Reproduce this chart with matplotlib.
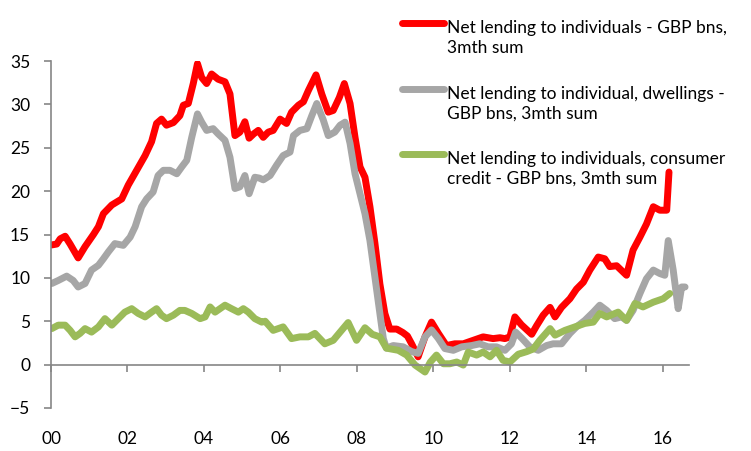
import matplotlib
matplotlib.use("Agg")
import matplotlib.pyplot as plt
from matplotlib.lines import Line2D

plt.rcParams['font.family'] = ['Lato', 'DejaVu Sans']

# values (year as decimal, GBP bns)
red_years = [2000.02, 2000.15, 2000.24, 2000.37, 2000.5, 2000.71, 2000.89, 2001.11, 2001.24, 2001.37,
             2001.59, 2001.85, 2002.02, 2002.24, 2002.46, 2002.63, 2002.76, 2002.89, 2003.02, 2003.2,
             2003.37, 2003.46, 2003.59, 2003.72, 2003.83, 2003.94, 2004.07, 2004.2, 2004.37, 2004.55,
             2004.68, 2004.81, 2004.94, 2005.07, 2005.18, 2005.3, 2005.42, 2005.55, 2005.68, 2005.81,
             2005.99, 2006.16, 2006.29, 2006.47, 2006.6, 2006.73, 2006.93, 2007.08, 2007.25, 2007.38,
             2007.54, 2007.67, 2007.82, 2007.95, 2008.08, 2008.21, 2008.34, 2008.47, 2008.6, 2008.73,
             2008.86, 2009.04, 2009.2, 2009.32, 2009.43, 2009.6, 2009.78, 2009.95, 2010.13, 2010.34,
             2010.56, 2010.78, 2011.04, 2011.3, 2011.56, 2011.74, 2011.87, 2012.0, 2012.13, 2012.3,
             2012.57, 2012.7, 2012.87, 2013.05, 2013.18, 2013.35, 2013.57, 2013.74, 2013.92, 2014.09,
             2014.31, 2014.48, 2014.61, 2014.79, 2015.05, 2015.22, 2015.4, 2015.57, 2015.75, 2015.92,
             2016.1, 2016.16]
red_values = [13.8, 13.9, 14.5, 14.8, 13.9, 12.3, 13.6, 15.0, 15.9, 17.4,
              18.4, 19.1, 20.7, 22.4, 24.1, 25.7, 27.8, 28.3, 27.6, 27.9,
              28.7, 29.9, 30.1, 32.4, 34.7, 33.1, 32.4, 33.5, 32.9, 32.6,
              31.2, 26.4, 26.8, 28.0, 26.1, 26.6, 27.0, 26.2, 26.8, 27.0,
              28.3, 27.8, 29.1, 29.9, 30.3, 31.6, 33.4, 31.2, 29.1, 29.3,
              30.8, 32.4, 30.1, 26.2, 22.8, 21.6, 18.2, 14.0, 9.3, 5.9,
              4.1, 4.1, 3.7, 3.3, 2.4, 0.9, 3.2, 4.9, 3.6, 2.2,
              2.4, 2.4, 2.8, 3.2, 3.0, 3.1, 3.0, 3.2, 5.5, 4.6,
              3.5, 4.5, 5.7, 6.6, 5.5, 6.6, 7.6, 8.7, 9.5, 10.9,
              12.4, 12.2, 11.3, 11.4, 10.3, 13.2, 14.7, 16.2, 18.2, 17.8,
              17.8, 22.2]

grey_years = [2000.02, 2000.19, 2000.41, 2000.58, 2000.71, 2000.89, 2001.06, 2001.24, 2001.37, 2001.5,
              2001.67, 2001.89, 2002.07, 2002.2, 2002.37, 2002.5, 2002.67, 2002.8, 2002.94, 2003.11,
              2003.29, 2003.42, 2003.55, 2003.68, 2003.83, 2003.94, 2004.07, 2004.24, 2004.37, 2004.55,
              2004.68, 2004.81, 2004.94, 2005.07, 2005.18, 2005.33, 2005.45, 2005.55, 2005.73, 2005.9,
              2006.07, 2006.25, 2006.34, 2006.51, 2006.69, 2006.82, 2006.95, 2007.12, 2007.25, 2007.42,
              2007.56, 2007.69, 2007.82, 2007.95, 2008.08, 2008.21, 2008.34, 2008.47, 2008.6, 2008.69,
              2008.77, 2008.95, 2009.21, 2009.43, 2009.6, 2009.78, 2009.95, 2010.13, 2010.3, 2010.52,
              2010.74, 2011.0, 2011.21, 2011.43, 2011.65, 2011.87, 2012.04, 2012.15, 2012.32, 2012.52,
              2012.74, 2012.96, 2013.13, 2013.35, 2013.57, 2013.74, 2013.96, 2014.18, 2014.35, 2014.53,
              2014.74, 2014.92, 2015.05, 2015.22, 2015.4, 2015.57, 2015.75, 2015.92, 2016.05, 2016.14,
              2016.27, 2016.4, 2016.49, 2016.58]
grey_values = [9.35, 9.7, 10.2, 9.7, 8.95, 9.35, 10.9, 11.45, 12.2, 13.0,
               13.95, 13.75, 14.7, 15.9, 18.2, 19.1, 19.9, 21.8, 22.4, 22.4,
               22.0, 22.8, 23.55, 26.2, 28.9, 27.95, 27.0, 27.2, 26.6, 25.85,
               23.9, 20.3, 20.5, 21.8, 19.7, 21.6, 21.5, 21.3, 21.8, 23.0,
               24.1, 24.5, 26.4, 27.0, 27.2, 28.7, 30.1, 28.2, 26.4, 26.8,
               27.6, 27.95, 25.5, 22.0, 19.7, 17.4, 14.3, 10.1, 5.9, 3.0,
               1.9, 2.2, 2.05, 1.5, 1.3, 3.2, 4.0, 3.0, 1.85, 1.65,
               2.05, 2.2, 2.4, 2.05, 2.05, 1.65, 2.4, 3.75, 3.0, 2.05,
               1.65, 2.2, 2.4, 2.4, 3.6, 4.35, 5.1, 6.05, 6.85, 6.25,
               5.3, 5.5, 5.1, 6.25, 8.2, 9.9, 10.9, 10.5, 10.3, 14.3,
               10.9, 6.45, 8.95, 8.95]

green_years = [2000.02, 2000.19, 2000.37, 2000.5, 2000.63, 2000.76, 2000.89, 2001.06, 2001.24, 2001.41,
               2001.59, 2001.76, 2001.93, 2002.11, 2002.28, 2002.46, 2002.63, 2002.76, 2002.89, 2003.02,
               2003.2, 2003.37, 2003.5, 2003.68, 2003.9, 2004.03, 2004.16, 2004.29, 2004.55, 2004.72,
               2004.9, 2005.03, 2005.16, 2005.33, 2005.51, 2005.6, 2005.81, 2006.07, 2006.29, 2006.51,
               2006.73, 2006.9, 2007.16, 2007.38, 2007.56, 2007.77, 2007.99, 2008.21, 2008.4, 2008.6,
               2008.77, 2009.08, 2009.3, 2009.52, 2009.78, 2009.92, 2010.08, 2010.26, 2010.43, 2010.61,
               2010.78, 2010.91, 2011.13, 2011.3, 2011.48, 2011.65, 2011.82, 2012.0, 2012.22, 2012.44,
               2012.61, 2012.78, 2013.05, 2013.18, 2013.44, 2013.7, 2013.96, 2014.18, 2014.35, 2014.53,
               2014.83, 2015.05, 2015.27, 2015.48, 2015.75, 2016.01, 2016.18]
green_values = [4.15, 4.55, 4.55, 3.95, 3.2, 3.6, 4.15, 3.75, 4.35, 5.3,
                4.55, 5.3, 6.05, 6.45, 5.9, 5.5, 6.05, 6.45, 5.7, 5.3,
                5.7, 6.25, 6.25, 5.9, 5.3, 5.5, 6.65, 6.05, 6.85, 6.45,
                6.05, 6.45, 6.05, 5.3, 4.9, 5.0, 3.95, 4.35, 3.0, 3.2,
                3.2, 3.6, 2.4, 2.8, 3.75, 4.85, 2.8, 4.25, 3.5, 3.2,
                1.9, 1.65, 1.1, -0.05, -0.85, 0.3, 1.1, 0.1, 0.1, 0.3,
                -0.05, 1.45, 1.1, 1.45, 0.9, 1.65, 0.5, 0.3, 1.2, 1.5,
                1.8, 2.8, 4.15, 3.4, 3.95, 4.35, 4.75, 4.9, 5.9, 5.5,
                6.05, 5.1, 7.05, 6.65, 7.2, 7.6, 8.2]

tick_years = list(range(2000, 2017, 2))
tick_labels = ["00", "02", "04", "06", "08", "10", "12", "14", "16"]

labels = ["Net lending to individuals - GBP bns,\n3mth sum",
          "Net lending to individual, dwellings -\nGBP bns, 3mth sum",
          "Net lending to individuals, consumer\ncredit - GBP bns, 3mth sum"]
colors = ["#FF0000", "#A6A6A6", "#9BBB59"]

fig = plt.figure(figsize=(7.51, 4.51), dpi=100)
ax = fig.add_axes([51 / 751, 1 - 408 / 451, (688.5 - 51) / 751, (408 - 61) / 451])

ax.plot(red_years, red_values, color=colors[0], lw=5, solid_capstyle='round', solid_joinstyle='round')
ax.plot(grey_years, grey_values, color=colors[1], lw=5, solid_capstyle='round', solid_joinstyle='round')
ax.plot(green_years, green_values, color=colors[2], lw=5, solid_capstyle='round', solid_joinstyle='round')

ax.set_xlim(2000, 2016.67)
ax.set_ylim(-5, 35)
ax.set_yticks(range(-5, 36, 5))
ax.set_xticks(tick_years)
ax.set_xticklabels(tick_labels)

for s in ["top", "right"]:
    ax.spines[s].set_visible(False)
ax.spines["bottom"].set_position(("data", 0))
for s in ["left", "bottom"]:
    ax.spines[s].set_color("#868686")
    ax.spines[s].set_linewidth(1.2)
ax.tick_params(axis="both", colors="#868686", labelcolor="black", labelsize=12.5, length=5, width=1.2)
ax.tick_params(axis="y", pad=10)
ax.tick_params(axis="x", pad=43)

# legend drawn by hand so the line sits on the first text row
handle_y = [23, 89, 154]
for i in range(3):
    yf = 1 - handle_y[i] / 451
    fig.add_artist(Line2D([402 / 751, 444 / 751], [yf, yf], color=colors[i], lw=5,
                          solid_capstyle='round', transform=fig.transFigure))
    fig.text(447 / 751, yf + 3 / 451, labels[i], fontsize=12.5, va="top", ha="left",
             linespacing=1.3, transform=fig.transFigure)

fig.savefig("out.png", dpi=100)
